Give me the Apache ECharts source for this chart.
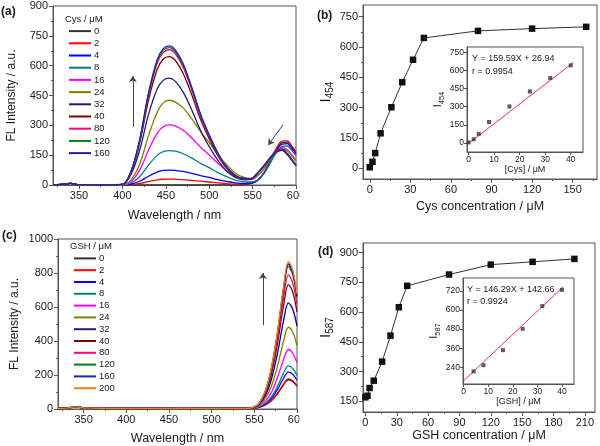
<!DOCTYPE html>
<html><head><meta charset="utf-8">
<script src="https://cdn.jsdelivr.net/npm/echarts@6/dist/echarts.min.js"></script>
<style>html,body{margin:0;padding:0;background:#fff}#c{width:600px;height:446px}</style>
</head><body><div id="c"></div>
<script>
// ---------- DATA ----------
const wavelengths = [320,330,340,350,360,380,400,410,420,430,440,447,454,461,470,480,490,500,510,520,530,540,548,555,563,570,577,584,590,595,600];

const cysLabels = ['0','2','4','8','16','24','32','40','80','120','160'];
const cys0   = [1,3,8,2,1,0,0,0,0,0,0,0,0,0,0,0,0,0,0,0,0,2,7,20,59,117,176,213,216,191,163];
const cys2   = [1,3,8,2,1,0,0,2,8,17,26,29,30,29,27,23,19,15,11,7,4,5,8,21,62,120,182,220,222,197,168];
const cys4   = [1,3,8,2,1,0,0,5,19,44,65,73,75,74,68,59,47,38,27,18,11,8,10,21,58,113,170,206,208,184,157];
const cys8   = [1,3,8,2,1,0,1,10,43,100,149,168,173,170,157,135,109,87,62,42,24,16,15,23,57,107,160,194,196,174,148];
const cys16  = [1,3,8,2,1,0,1,18,76,175,260,293,302,296,275,236,190,151,109,72,42,28,27,43,81,126,167,188,177,152,124];
const cys24  = [1,3,8,2,1,0,1,26,107,247,366,413,426,417,388,332,268,213,153,102,60,38,33,46,80,122,162,182,171,147,120];
const cys32  = [1,3,8,2,1,0,3,54,177,354,483,526,537,521,467,376,274,193,124,70,38,26,29,56,97,137,171,180,158,130,101];
const cys40  = [1,3,8,2,1,0,3,65,213,426,581,632,645,626,561,452,329,232,148,84,45,31,31,58,97,135,169,178,157,128,100];
const cys80  = [1,3,8,2,1,0,3,68,224,449,612,666,680,660,592,476,347,245,156,88,48,32,32,57,96,134,167,176,155,127,99];
const cys120 = [1,3,8,2,1,0,3,69,228,456,622,677,691,670,601,484,352,249,159,90,48,33,32,57,95,133,166,175,154,126,98];
const cys160 = [1,3,8,2,1,0,4,70,231,462,630,686,700,679,609,490,357,252,161,91,49,33,31,57,94,132,165,174,153,125,97];
const cysSpectra = [cys0,cys2,cys4,cys8,cys16,cys24,cys32,cys40,cys80,cys120,cys160];

const gshLabels = ['0','2','4','8','16','24','32','40','80','120','160','200'];
const gsh0   = [3,5,12,6,5,4,3,3,3,3,4,4,4,4,4,4,4,4,4,3,3,3,5,9,24,48,89,141,172,162,134];
const gsh2   = [3,5,12,6,5,4,3,3,3,3,4,4,4,4,4,4,4,4,4,3,3,3,5,9,25,50,92,145,177,166,138];
const gsh4   = [3,5,12,6,5,4,3,3,3,3,4,4,4,4,4,4,4,4,4,3,3,3,5,10,30,61,113,178,217,204,169];
const gsh8   = [3,5,12,6,5,4,3,3,3,3,4,4,4,4,4,4,4,4,4,3,3,3,5,12,34,71,132,208,254,239,198];
const gsh16  = [3,5,12,6,5,4,3,3,3,3,4,4,4,4,4,4,4,4,4,3,3,3,6,14,46,98,182,287,350,329,273];
const gsh24  = [3,5,12,6,5,4,3,3,3,3,4,4,4,4,4,4,4,4,4,3,3,3,6,18,62,135,250,394,481,452,375];
const gsh32  = [3,5,12,6,5,4,3,3,3,3,4,4,4,4,4,4,4,4,4,3,3,3,7,23,79,175,324,512,624,587,487];
const gsh40  = [3,5,12,6,5,4,3,3,3,3,4,4,4,4,4,4,4,4,4,3,3,3,8,26,92,205,381,600,732,688,571];
const gsh80  = [3,5,12,6,5,4,3,3,3,4,5,6,7,8,8,7,6,5,4,3,3,3,8,28,99,221,410,647,789,742,615];
const gsh120 = [3,5,12,6,5,4,3,3,3,3,4,4,4,4,4,4,4,4,4,3,3,3,8,29,105,235,436,688,839,789,654];
const gsh160 = [3,5,12,6,5,4,3,3,3,3,4,4,4,4,4,4,4,4,4,3,3,3,8,30,106,239,444,699,853,802,665];
const gsh200 = [3,5,12,6,5,4,3,3,3,3,4,4,4,4,4,4,4,4,4,3,3,3,8,30,108,243,451,712,868,816,677];
const gshSpectra = [gsh0,gsh2,gsh4,gsh8,gsh16,gsh24,gsh32,gsh40,gsh80,gsh120,gsh160,gsh200];

const cysConc = [0,2,4,8,16,24,32,40,80,120,160];
const cysI454 = [5,32,75,173,302,426,537,645,680,691,700];
const cysLinX = [0,2,4,8,16,24,32,40];
const cysLinY = [5,30,75,173,302,426,537,642];
const cysFitX = [0,41];
const cysFitY = [-5,665];

const gshConc = [0,2,4,8,16,24,32,40,80,120,160,200];
const gshI587 = [170,178,217,254,350,481,624,732,789,839,853,868];
const gshLinX = [4,8,16,24,32,40];
const gshLinY = [215,254,348,482,624,726];
const gshFitX = [0,40.5];
const gshFitY = [157,745];

const specTicksX = [350,400,450,500,550,600];
const specMinorX = [325,375,425,475,525,575];
const bTicksX = [0,30,60,90,120,150];
const bMinorX = [15,45,75,105,135,165];
const bTicksY = [0,150,300,450,600,750];
const bMinorY = [75,225,375,525,675];
const biTicksX = [0,10,20,30,40];
const biTicksY = [0,150,300,450,600,750];
const dTicksX = [0,30,60,90,120,150,180,210];
const dMinorX = [15,45,75,105,135,165,195];
const dTicksY = [150,300,450,600,750,900];
const dMinorY = [225,375,525,675,825];
const diTicksX = [0,10,20,30,40];
const diTicksY = [240,360,480,600,720];

const arrowUpA = [[412,292],[412,548]];
const arrowDiagA = [[585,302],[568,201]];
const arrowUpC = [[560,493],[560,800]];

const cysColors = ['#333333','#ff0000','#0000ff','#008080','#ff00ff','#808000','#1f1f7a','#800000','#ff0080','#008000','#2020c0'];
const gshColors = ['#111111','#ff0000','#0000ff','#008080','#ff00ff','#808000','#000080','#800000','#ff0080','#008000','#0000c0','#ff8000'];

// ---------- CHART ----------
const FONT = '"Liberation Sans", Arial, Helvetica, sans-serif';
const AX = '#555';
const TX = '#1a1a1a';

function zip(xs, ys){ return xs.map((x,i)=>[x, ys[i]]); }

function mkAxis(gridIndex, min, max, o) {
  const a = {
    type:'value', gridIndex, min, max, position:o.position,
    splitLine:{show:false},
    axisLine:{show:o.line!==false, onZero:false, lineStyle:{color:AX,width:1}},
    axisTick:{show:true, inside:false, length:o.tickLen||4, lineStyle:{color:AX,width:1}},
    axisLabel:{show:o.labels!==false, color:TX, fontSize:o.fs||11, fontFamily:FONT, margin:o.margin||5,
      formatter:function(v){ return String(v); }},
    name:o.name||'', nameLocation:'middle', nameGap:o.nameGap||20,
    nameTextStyle:Object.assign({color:TX, fontSize:12.5, fontFamily:FONT}, o.nameStyle||{})
  };
  if (o.ticks) { a.axisTick.customValues = o.ticks; a.axisLabel.customValues = o.ticks; }
  if (o.interval) a.interval = o.interval;
  if (o.minor) a.minorTick = {show:true, splitNumber:2, length:2, lineStyle:{color:AX}};
  return a;
}
function subName(main, sub, big, small) {
  return {
    name:'{i|' + main + '}{s|' + sub + '}',
    nameStyle:{rich:{
      i:{fontSize:big, fontFamily:FONT, color:TX},
      s:{fontSize:small, fontFamily:FONT, color:TX, padding:[Math.round(big*0.6),0,0,0]}
    }}
  };
}

const grids = [
  {left:53, top:6, width:243, height:179},     // a
  {left:363, top:5, width:234, height:174},    // b
  {left:467, top:47, width:116, height:105, backgroundColor:'#fff'}, // b inset
  {left:58, top:239, width:239, height:170},   // c
  {left:363, top:243, width:232, height:169},  // d
  {left:463, top:278, width:111, height:106, backgroundColor:'#fff'} // d inset
].map(g => Object.assign({show:true, borderColor:AX, borderWidth:1, containLabel:false}, g));

const bY = subName('I','454',15,10);
const dY = subName('I','587',15,10);
const biY = subName('I','454',11,7.5);
const diY = subName('I','587',11,7.5);

const xAxes = [
  mkAxis(0, 320, 600, {position:'bottom', ticks:specTicksX, name:'Wavelength / nm', nameGap:24}),
  mkAxis(1, -5, 168, {position:'bottom', ticks:bTicksX, name:'Cys concentration / μM', nameGap:21}),
  mkAxis(2, -0.6, 44.8, {position:'bottom', ticks:biTicksX, fs:8.5, tickLen:3, margin:3, name:'[Cys] / μM', nameGap:12, nameStyle:{fontSize:9}}),
  mkAxis(3, 320, 600, {position:'bottom', ticks:specTicksX, name:'Wavelength / nm', nameGap:23}),
  mkAxis(4, -2.3, 219.7, {position:'bottom', ticks:dTicksX, name:'GSH concentration / μM', nameGap:15}),
  mkAxis(5, -0.3, 44.9, {position:'bottom', ticks:diTicksX, fs:8.5, tickLen:3, margin:3, name:'[GSH] / μM', nameGap:12, nameStyle:{fontSize:9}}),
  mkAxis(0, 320, 600, {position:'bottom', ticks:specMinorX, line:false, labels:false, tickLen:2}),
  mkAxis(1, -5, 168, {position:'bottom', ticks:bMinorX, line:false, labels:false, tickLen:2}),
  mkAxis(3, 320, 600, {position:'bottom', ticks:specMinorX, line:false, labels:false, tickLen:2}),
  mkAxis(4, -2.3, 219.7, {position:'bottom', ticks:dMinorX, line:false, labels:false, tickLen:2})
];
const yAxes = [
  mkAxis(0, 0, 900, {position:'left', interval:150, minor:true, name:'FL Intensity / a.u.', nameGap:35, nameStyle:{fontSize:12}}),
  mkAxis(1, -53, 808, {position:'left', ticks:bTicksY, name:bY.name, nameStyle:bY.nameStyle, nameGap:24}),
  mkAxis(2, -75, 794, {position:'left', ticks:biTicksY, fs:8.5, tickLen:3, margin:3, name:biY.name, nameStyle:biY.nameStyle, nameGap:15}),
  mkAxis(3, 0, 1000, {position:'left', interval:200, minor:true, name:'FL Intensity / a.u.', nameGap:37, nameStyle:{fontSize:12}}),
  mkAxis(4, 96, 948, {position:'left', ticks:dTicksY, name:dY.name, nameStyle:dY.nameStyle, nameGap:24}),
  mkAxis(5, 136, 800, {position:'left', ticks:diTicksY, fs:8.5, tickLen:3, margin:3, name:diY.name, nameStyle:diY.nameStyle, nameGap:17}),
  mkAxis(1, -53, 808, {position:'left', ticks:bMinorY, line:false, labels:false, tickLen:2}),
  mkAxis(4, 96, 948, {position:'left', ticks:dMinorY, line:false, labels:false, tickLen:2})
];

const series = [];
cysSpectra.forEach((arr, i) => {
  const s = {
    type:'line', name:cysLabels[i], xAxisIndex:0, yAxisIndex:0,
    data:zip(wavelengths, arr), smooth:0.35, symbol:'none', silent:true,
    lineStyle:{color:cysColors[i], width:1.3}, itemStyle:{color:cysColors[i]}
  };
  if (i === cysSpectra.length - 1) {
    s.markLine = {silent:true, symbol:['none','arrow'], symbolSize:6, label:{show:false},
      lineStyle:{color:'#444', width:1, type:'solid'},
      data:[
        [{coord:arrowUpA[0]},{coord:arrowUpA[1]}],
        [{coord:arrowDiagA[0]},{coord:arrowDiagA[1]}]
      ]};
  }
  series.push(s);
});
gshSpectra.forEach((arr, i) => {
  const s = {
    type:'line', name:gshLabels[i], xAxisIndex:3, yAxisIndex:3,
    data:zip(wavelengths, arr), smooth:0.35, symbol:'none', silent:true,
    lineStyle:{color:gshColors[i], width:1.3}, itemStyle:{color:gshColors[i]}
  };
  if (i === gshSpectra.length - 1) {
    s.markLine = {silent:true, symbol:['none','arrow'], symbolSize:6, label:{show:false},
      lineStyle:{color:'#444', width:1, type:'solid'},
      data:[[{coord:arrowUpC[0]},{coord:arrowUpC[1]}]]};
  }
  series.push(s);
});
series.push({type:'line', name:'I454', xAxisIndex:1, yAxisIndex:1, data:zip(cysConc, cysI454),
  symbol:'rect', symbolSize:6.5, itemStyle:{color:'#111'}, lineStyle:{color:'#333', width:1}});
series.push({type:'line', name:'fitCys', xAxisIndex:2, yAxisIndex:2, data:zip(cysFitX, cysFitY),
  symbol:'none', lineStyle:{color:'#e8383d', width:1}, z:3});
series.push({type:'scatter', name:'linCys', xAxisIndex:2, yAxisIndex:2, data:zip(cysLinX, cysLinY),
  symbol:'rect', symbolSize:4, itemStyle:{color:'#3a3030'}, z:4});
series.push({type:'line', name:'I587', xAxisIndex:4, yAxisIndex:4, data:zip(gshConc, gshI587),
  symbol:'rect', symbolSize:6.5, itemStyle:{color:'#111'}, lineStyle:{color:'#333', width:1}});
series.push({type:'line', name:'fitGsh', xAxisIndex:5, yAxisIndex:5, data:zip(gshFitX, gshFitY),
  symbol:'none', lineStyle:{color:'#e8383d', width:1}, z:3});
series.push({type:'scatter', name:'linGsh', xAxisIndex:5, yAxisIndex:5, data:zip(gshLinX, gshLinY),
  symbol:'rect', symbolSize:4, itemStyle:{color:'#3a3030'}, z:4});

function txt(left, top, text, size, weight) {
  return {type:'text', left, top, z:50,
    style:{text, font:(weight||'normal') + ' ' + size + 'px ' + FONT, fill:TX}};
}

const legendBase = {orient:'vertical', icon:'rect', itemWidth:22, itemHeight:2, itemGap:0,
  selectedMode:false, textStyle:{fontSize:9.5, lineHeight:12.2, color:TX, fontFamily:FONT, padding:[0,0,0,-2]}};

const option = {
  animation:false,
  backgroundColor:'#fff',
  grid:grids,
  xAxis:xAxes,
  yAxis:yAxes,
  series,
  legend:[
    Object.assign({}, legendBase, {data:cysLabels, left:64, top:20}),
    Object.assign({}, legendBase, {data:gshLabels, left:69, top:247.5, textStyle:Object.assign({}, legendBase.textStyle, {lineHeight:11.8})})
  ],
  graphic:[
    {type:'rect', shape:{x:299.5, y:188, width:20, height:16}, style:{fill:'#fff'}, z:100},
    {type:'rect', shape:{x:299.5, y:413, width:20, height:16}, style:{fill:'#fff'}, z:100},
    txt(1, 6, '(a)', 12, 'bold'),
    txt(317, 10, '(b)', 12, 'bold'),
    txt(2, 230, '(c)', 12, 'bold'),
    txt(318, 246, '(d)', 12, 'bold'),
    txt(65, 14, 'Cys / μM', 9.5),
    txt(70, 241, 'GSH / μM', 9.5),
    txt(472, 54, 'Y = 159.59X + 26.94', 9),
    txt(472, 67, 'r = 0.9954', 9),
    txt(467, 285, 'Y = 146.29X + 142.66', 9),
    txt(467, 297, 'r = 0.9924', 9)
  ]
};

const chart = echarts.init(document.getElementById('c'), null, {renderer:'canvas'});
chart.setOption(option);
</script>
</body></html>
